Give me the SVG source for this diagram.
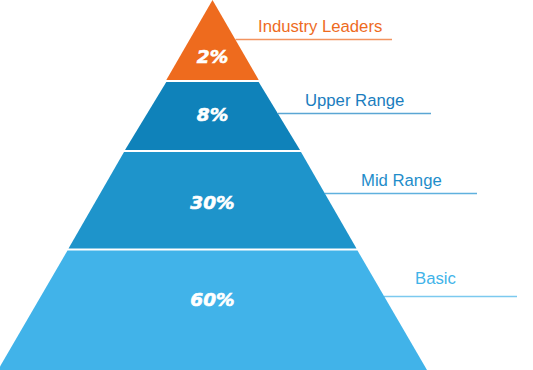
<svg xmlns="http://www.w3.org/2000/svg" width="533" height="370" viewBox="0 0 533 370">
<style>
.pct{font-family:"DejaVu Sans",sans-serif;font-weight:bold;font-style:italic;font-size:18.5px;fill:#fff;stroke:#fff;stroke-width:0.6;text-anchor:middle}
.lbl{font-family:"Liberation Sans",Arial,sans-serif;font-size:16.7px}
.ln{stroke-width:1.5;fill:none}
</style>
<rect width="533" height="370" fill="#fff"/>
<g id="connectors">
<line class="ln" x1="235.5" y1="39.5" x2="392" y2="39.5" stroke="#F29460"/>
<line class="ln" x1="278" y1="113.5" x2="431" y2="113.5" stroke="#5AA6D4"/>
<line class="ln" x1="324.5" y1="193.5" x2="477" y2="193.5" stroke="#5FB1DE"/>
<line class="ln" x1="384" y1="296.5" x2="517" y2="296.5" stroke="#7CC9EF"/>
</g>
<g id="industry-leaders">
<polygon points="212.5,0 258.7,80 166.3,80" fill="#EE6B1E"/>
<text class="pct" x="212.5" y="63">2%</text>
<text class="lbl" x="258" y="32" fill="#EE6B1E">Industry Leaders</text>
</g>
<g id="upper-range">
<polygon points="166.3,82 258.7,82 300,150 125,150" fill="#0F82BA"/>
<text class="pct" x="212.5" y="121">8%</text>
<text class="lbl" x="305" y="106" fill="#1A7DBE">Upper Range</text>
</g>
<g id="mid-range">
<polygon points="124,152 301,152 356.5,248.5 68.5,248.5" fill="#1E94CB"/>
<text class="pct" x="212.5" y="209">30%</text>
<text class="lbl" x="361" y="186" fill="#1E8DCA">Mid Range</text>
</g>
<g id="basic">
<polygon points="67.5,250.5 357.5,250.5 427,370 -2,370" fill="#41B3E9"/>
<text class="pct" x="212.5" y="306">60%</text>
<text class="lbl" x="415" y="284" fill="#41B3E9">Basic</text>
</g>
</svg>
